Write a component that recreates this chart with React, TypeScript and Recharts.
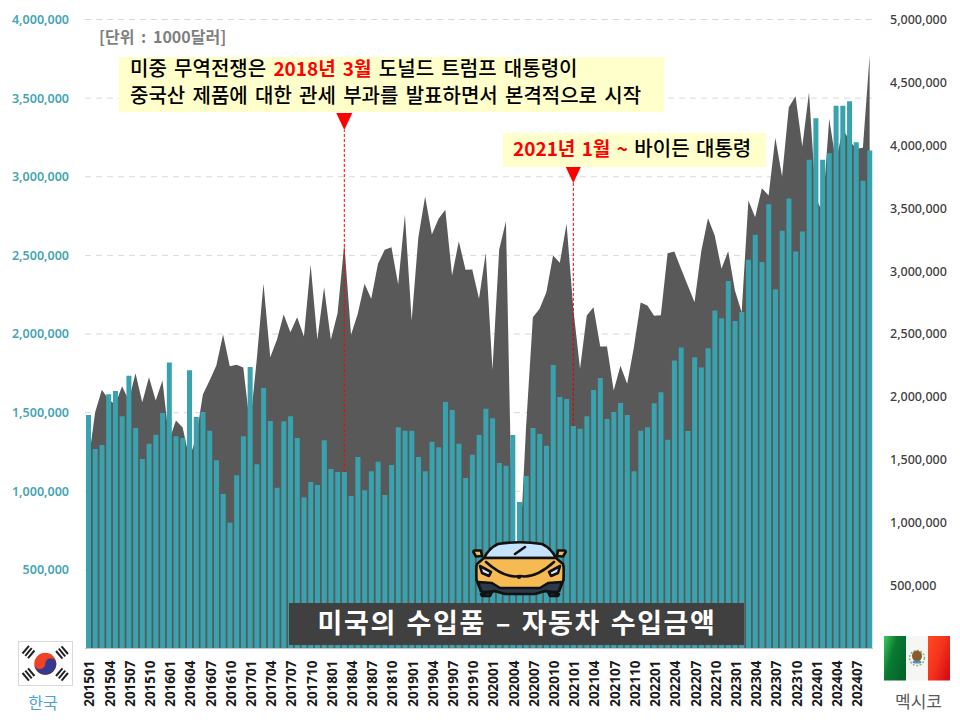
import { Area, Bar, CartesianGrid, ComposedChart, ReferenceDot, ReferenceLine, XAxis, YAxis } from "recharts";

const months = [
  "201501", "201502", "201503", "201504", "201505", "201506", "201507", "201508", "201509", "201510", "201511", "201512",
  "201601", "201602", "201603", "201604", "201605", "201606", "201607", "201608", "201609", "201610", "201611", "201612",
  "201701", "201702", "201703", "201704", "201705", "201706", "201707", "201708", "201709", "201710", "201711", "201712",
  "201801", "201802", "201803", "201804", "201805", "201806", "201807", "201808", "201809", "201810", "201811", "201812",
  "201901", "201902", "201903", "201904", "201905", "201906", "201907", "201908", "201909", "201910", "201911", "201912",
  "202001", "202002", "202003", "202004", "202005", "202006", "202007", "202008", "202009", "202010", "202011", "202012",
  "202101", "202102", "202103", "202104", "202105", "202106", "202107", "202108", "202109", "202110", "202111", "202112",
  "202201", "202202", "202203", "202204", "202205", "202206", "202207", "202208", "202209", "202210", "202211", "202212",
  "202301", "202302", "202303", "202304", "202305", "202306", "202307", "202308", "202309", "202310", "202311", "202312",
  "202401", "202402", "202403", "202404", "202405", "202406", "202407", "202408", "202409"
];

const korea = [
  1485400, 1269000, 1294500, 1617000, 1638000, 1477000, 1735000, 1402600, 1205400, 1302800, 1360000, 1498000,
  1818000, 1349800, 1339000, 1769700, 1472600, 1504400, 1385500, 1197200, 982800, 800200, 1101800, 1349800,
  1790700, 1171700, 1657100, 1447200, 1022900, 1445300, 1477000, 1339000, 961800, 1059200, 1040100, 1324400,
  1141900, 1122800, 1122800, 970100, 1218200, 1006300, 1127200, 1188300, 976500, 1167300, 1407100, 1385500,
  1385500, 1218200, 1127200, 1315500, 1279900, 1568100, 1517200, 1302800, 1084600, 1232800, 1358100, 1525400,
  1464400, 1180000, 1162800, 1358100, 931900, 1097300, 1402600, 1364500, 1290000, 1803400, 1599900, 1587100,
  1415400, 1398200, 1477000, 1644400, 1720700, 1459900, 1504400, 1561700, 1485400, 1127200, 1385500, 1407100,
  1559800, 1629800, 1328200, 1830800, 1913500, 1383600, 1852400, 1786300, 1909700, 2148800, 2100500, 2337800,
  2083300, 2140600, 2471400, 2630400, 2458600, 2825700, 2285000, 2655900, 2861300, 2524200, 2651400, 3107500,
  3372800, 3107500, 3150100, 3451000, 3451000, 3479700, 3220100, 2973900, 3166700
];

const mexico = [
  1478500, 1876000, 2056400, 1979300, 1939600, 2085000, 1971400, 2188400, 1957800, 2156600, 1971400, 2130300,
  1653400, 1812400, 1756700, 1510300, 1677200, 2019000, 2130300, 2249600, 2496000, 2244000, 2255100, 2233700,
  1772600, 2297300, 2901400, 2315500, 2453900, 2655000, 2514300, 2633500, 2480100, 3050000, 2453900, 2872000,
  2453900, 2665300, 3217000, 2493600, 2660500, 2899000, 2779800, 3058000, 3169300, 3190000, 2893400, 3447500,
  2607300, 3269400, 3593000, 3290900, 3415700, 3487200, 2965000, 3237600, 3010300, 3012700, 2779800, 3142300,
  2215400, 3171700, 3396600, 763100, 699500, 1772600, 2633500, 2700300, 2832300, 3124000, 3065900, 3375900,
  2700300, 2223400, 2647000, 2713000, 2400600, 2400600, 2050800, 2247200, 2104100, 2395000, 2750400, 2726500,
  2644600, 2649400, 3142300, 3155800, 3018300, 2885500, 2752800, 3158100, 3420500, 3282900, 3018300, 3158100,
  2845700, 2673300, 3561200, 3428400, 3659000, 3600900, 4059600, 3751900, 4302800, 4390200, 3990400, 4422000,
  3585000, 3465800, 4210600, 3865600, 4133500, 4038100, 3972100, 3980100, 4713800
];

const leftTicks = [500000, 1000000, 1500000, 2000000, 2500000, 3000000, 3500000, 4000000];
const rightTicks = [500000, 1000000, 1500000, 2000000, 2500000, 3000000, 3500000, 4000000, 4500000, 5000000];

const data = months.map((month, i) => ({ month, korea: korea[i], mexico: mexico[i] }));

const LATIN = "'Noto Sans', sans-serif";
const HANGUL = "'Noto Sans CJK KR', sans-serif";

function MonthTick({ x, y, payload }: any) {
  return (
    <text
      transform={`translate(${x + 1}, ${y + 4}) rotate(-90)`}
      textAnchor="end"
      dominantBaseline="central"
      fontFamily={LATIN}
      fontSize={13.5}
      fontWeight={700}
      fill="#1a1a1a"
    >
      {payload.value}
    </text>
  );
}

function MarkerTriangle({ cx, cy }: any) {
  return <path d={`M${cx - 8} ${cy - 17} L${cx + 8} ${cy - 17} L${cx} ${cy} Z`} fill="#ff0000" />;
}

function KoreaFlag() {
  const bars = (cx: number, cy: number, angle: number) => (
    <g transform={`translate(${cx} ${cy}) rotate(${angle})`} fill="#222">
      <rect x={-5} y={-4.6} width={10} height={2} />
      <rect x={-5} y={-1} width={10} height={2} />
      <rect x={-5} y={2.6} width={10} height={2} />
    </g>
  );
  return (
    <g>
      <rect x={18.5} y={641.5} width={54} height={44} fill="#fff" stroke="#d9d9d9" />
      {bars(28.5, 652, -50)}
      {bars(62, 652.5, 50)}
      {bars(28.5, 674.5, 50)}
      {bars(62, 674.5, -50)}
      <circle cx={45.3} cy={663.7} r={11} fill="#ef4123" />
      <path d="M34.3 663.7 A11 11 0 0 0 56.3 663.7 A5.5 5.5 0 0 0 45.3 663.7 A5.5 5.5 0 0 1 34.3 663.7 Z" fill="#36398e" />
    </g>
  );
}

function MexicoFlag() {
  return (
    <g>
      <defs>
        <linearGradient id="mxGreen" x1="0" y1="0" x2="1" y2="0.6">
          <stop offset="0%" stopColor="#3ecb5a" />
          <stop offset="45%" stopColor="#0b7a34" />
          <stop offset="100%" stopColor="#03662a" />
        </linearGradient>
        <linearGradient id="mxRed" x1="0" y1="0" x2="1" y2="0.7">
          <stop offset="0%" stopColor="#ff4a20" />
          <stop offset="55%" stopColor="#f4321c" />
          <stop offset="100%" stopColor="#d81014" />
        </linearGradient>
      </defs>
      <rect x={884} y={636} width={22} height={44.5} fill="url(#mxGreen)" />
      <rect x={906} y={636} width={22} height={44.5} fill="#f6f6f4" />
      <rect x={928} y={636} width={22} height={44.5} fill="url(#mxRed)" />
      <circle cx={917} cy={658} r={7.5} fill="none" stroke="#8fb58c" strokeWidth={1.5} strokeDasharray="2 1.5" />
      <ellipse cx={917} cy={656} rx={5} ry={5.5} fill="#8a5a2b" />
      <ellipse cx={917} cy={662} rx={4.5} ry={1.6} fill="#4c93b5" />
    </g>
  );
}

function CarIcon() {
  return (
    <g stroke="#111" strokeWidth={2.6} strokeLinejoin="round" strokeLinecap="round">
      <path d="M474 553 Q472 551 475 550.5 L481 550.5 L482 556 L476 556.5 Z" fill="#f5ba52" />
      <path d="M557 556 L558 550.5 L564 550.5 Q567 551 565 553 L563 556.5 Z" fill="#f5ba52" />
      <path d="M484 558 Q489 548 498 544 Q520 540.5 542 544 Q551 548 556 558 Z" fill="#c7e3fb" />
      <path d="M484 558 L556 558 L563 564 Q564 566 563.5 580 L559 591 L481 591 L476.5 580 Q476 566 477 564 Z" fill="#f5ba52" />
      <path d="M478 582 L492 583 L500 588 L540 588 L548 583 L562 582 L559 591 Q557 593 545 591 L535 594 L505 594 L495 591 Q483 593 481 591 Z" fill="#2b3a4a" />
      <path d="M481 594 L492 592 L490 596 L482 596 Z" fill="#2b3a4a" />
      <path d="M548 592 L559 594 L558 596 L550 596 Z" fill="#2b3a4a" />
      <path d="M480 566 L491 572 L489 576 L482 573 Z" fill="#dbeafa" />
      <path d="M560 566 L549 572 L551 576 L558 573 Z" fill="#dbeafa" />
      <path d="M486 562 Q505 579 520 576 Q535 579 554 562" fill="none" />
      <path d="M515 554 L525 547" fill="none" />
      <circle cx={519} cy={577} r={0.8} fill="#111" />
    </g>
  );
}

function Overlay() {
  return (
    <svg width={960} height={720} style={{ position: "absolute", left: 0, top: 0, pointerEvents: "none" }}>
      <text x={99} y={43} fontFamily={HANGUL} fontSize={16} fontWeight={700} fill="#7f7f7f" wordSpacing={3}>[단위 : 1000달러]</text>

      <rect x={119} y={57} width={545} height={55} fill="#ffffcc" />
      <text x={130} y={76} fontFamily={HANGUL} fontSize={20} fontWeight={500} fill="#000" wordSpacing={2.8}>
        미중 무역전쟁은 <tspan fill="#ff0000" fontWeight={700} fontSize={19}>2018년 3월</tspan> 도널드 트럼프 대통령이
      </text>
      <text x={130} y={103} fontFamily={HANGUL} fontSize={20} fontWeight={500} fill="#000" wordSpacing={2.8}>
        중국산 제품에 대한 관세 부과를 발표하면서 본격적으로 시작
      </text>

      <rect x={503} y={133} width={263} height={34} fill="#ffffcc" />
      <text x={513} y={156} fontFamily={HANGUL} fontSize={20} fontWeight={500} fill="#000" wordSpacing={2}>
        <tspan fill="#ff0000" fontWeight={700} fontSize={19}>2021년 1월 ~</tspan> 바이든 대통령
      </text>

      <CarIcon />

      <rect x={289} y={603} width={455} height={42} fill="#404040" />
      <text x={517} y={633} textAnchor="middle" fontFamily={HANGUL} fontSize={27} fontWeight={700} fill="#fff" letterSpacing={1.6} wordSpacing={2}>
        미국의 수입품 – 자동차 수입금액
      </text>

      <KoreaFlag />
      <text x={43} y={709} textAnchor="middle" fontFamily={HANGUL} fontSize={16} fill="#4aa3d9">한국</text>
      <MexicoFlag />
      <text x={918.5} y={708} textAnchor="middle" fontFamily={HANGUL} fontSize={17} fill="#595959">멕시코</text>
    </svg>
  );
}

export default function App() {
  return (
    <div style={{ position: "absolute", left: 0, top: 0, width: 960, height: 720, background: "#fff" }}>
      <ComposedChart width={960} height={720} data={data} margin={{ top: 19.5, right: 0, bottom: 0, left: 0 }} barGap={0}>
        <CartesianGrid yAxisId="left" horizontal vertical={false} stroke="#d9d9d9" strokeDasharray="6 5" />
        <XAxis
          dataKey="month"
          height={71.5}
          interval={2}
          tick={<MonthTick />}
          tickLine={false}
          axisLine={{ stroke: "#bfc9cc" }}
        />
        <YAxis
          yAxisId="left"
          width={85}
          domain={[0, 4000000]}
          ticks={leftTicks}
          tickFormatter={(v: number) => v.toLocaleString("en-US")}
          tick={{ fill: "#45a5b2", fontSize: 12.5, fontWeight: 600, fontFamily: LATIN }}
          tickSize={0}
          tickMargin={16}
          tickLine={false}
          axisLine={false}
        />
        <YAxis
          yAxisId="right"
          orientation="right"
          width={87}
          domain={[0, 5000000]}
          ticks={rightTicks}
          tickFormatter={(v: number) => v.toLocaleString("en-US")}
          tick={{ fill: "#404040", fontSize: 12.5, fontWeight: 500, fontFamily: LATIN }}
          tickSize={0}
          tickMargin={17}
          tickLine={false}
          axisLine={false}
        />
        <Area
          yAxisId="right"
          dataKey="mexico"
          type="linear"
          stroke="none"
          fill="#595959"
          fillOpacity={1}
          dot={false}
          activeDot={false}
          isAnimationActive={false}
        />
        <Bar yAxisId="left" dataKey="korea" fill="#38a2ae" barSize={5} isAnimationActive={false} />
        <ReferenceLine
          yAxisId="left"
          segment={[{ x: "201803", y: 1122800 }, { x: "201803", y: 3298000 }]}
          stroke="#ff0000"
          strokeDasharray="3 2"
        />
        <ReferenceLine
          yAxisId="left"
          segment={[{ x: "202101", y: 1415400 }, { x: "202101", y: 2961000 }]}
          stroke="#e00000"
          strokeDasharray="3 2"
        />
        <ReferenceDot yAxisId="left" x="201803" y={3298000} shape={<MarkerTriangle />} />
        <ReferenceDot yAxisId="left" x="202101" y={2961000} shape={<MarkerTriangle />} />
      </ComposedChart>
      <Overlay />
    </div>
  );
}
